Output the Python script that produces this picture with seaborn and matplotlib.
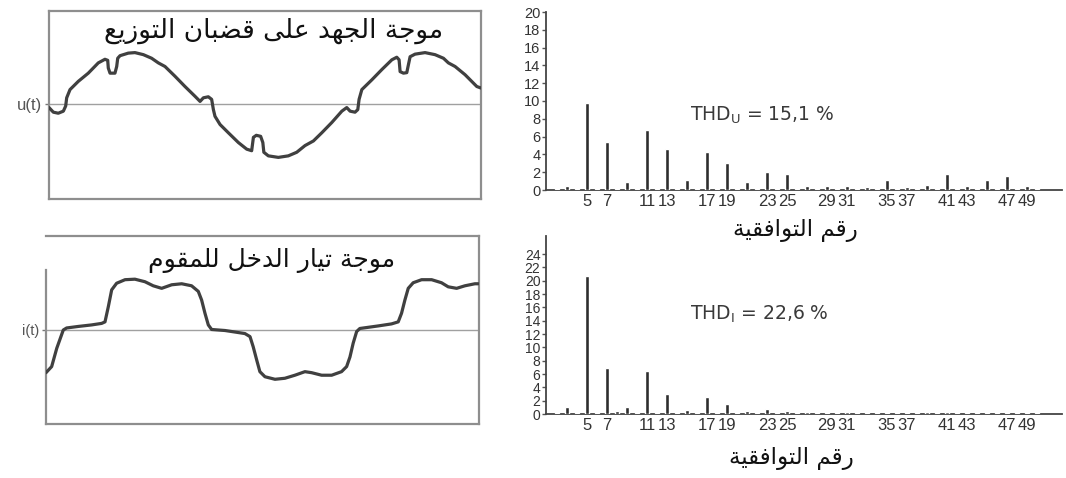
import numpy as np
import pandas as pd
import matplotlib
matplotlib.use("Agg")
import matplotlib.pyplot as plt
import seaborn as sns

# ---------------- data ----------------
# busbar voltage waveform (time in ms, value in per-unit)
volt_t = [0.00, 0.30, 0.64, 0.99, 1.15, 1.22, 1.45, 2.02, 2.71, 3.40, 3.86, 4.05, 4.09, 4.21,
          4.55, 4.67, 4.74, 4.90, 5.47, 5.93, 6.51, 7.08, 7.54, 8.00, 8.69, 9.38, 10.07, 10.42,
          10.65, 10.99, 11.22, 11.34, 11.45, 11.80, 12.37, 13.06, 13.64, 13.98, 14.10, 14.30,
          14.60, 14.75, 14.82, 15.13, 15.82, 16.51, 17.09, 17.66, 18.24, 18.82, 19.51, 20.20,
          20.54, 20.77, 21.11, 21.30, 21.39, 21.58, 22.27, 22.96, 23.65, 23.99, 24.15, 24.22,
          24.45, 24.68, 24.79, 24.91, 25.25, 25.94, 26.63, 27.21, 27.55, 28.01, 28.70, 29.51, 29.80]
volt_v = [-0.07, -0.16, -0.18, -0.14, -0.04, 0.12, 0.28, 0.44, 0.60, 0.80, 0.87, 0.85, 0.70, 0.60,
          0.60, 0.73, 0.89, 0.94, 0.99, 1.00, 0.96, 0.89, 0.80, 0.73, 0.54, 0.34, 0.15, 0.05,
          0.12, 0.14, 0.09, -0.11, -0.24, -0.40, -0.56, -0.75, -0.88, -0.91, -0.65, -0.61,
          -0.63, -0.75, -0.94, -1.01, -1.04, -1.01, -0.94, -0.81, -0.72, -0.56, -0.36, -0.14,
          -0.07, -0.14, -0.16, -0.11, 0.09, 0.28, 0.47, 0.67, 0.86, 0.91, 0.86, 0.63,
          0.60, 0.61, 0.76, 0.92, 0.97, 1.00, 0.96, 0.89, 0.80, 0.73, 0.57, 0.34, 0.31]

# rectifier input current waveform (time in ms, value in per-unit)
curr_t = [0.00, 0.39, 0.74, 1.19, 1.42, 2.22, 3.14, 3.83, 4.06, 4.29, 4.52, 4.86, 5.44, 6.12,
          6.81, 7.38, 7.96, 8.65, 9.34, 10.02, 10.48, 10.71, 10.94, 11.17, 11.40, 12.32, 13.69,
          14.04, 14.26, 14.50, 14.72, 15.07, 15.76, 16.44, 17.13, 17.82, 18.28, 18.97, 19.66,
          20.34, 20.69, 20.92, 21.14, 21.38, 21.60, 22.86, 23.78, 24.24, 24.47, 24.70, 24.93,
          25.27, 25.85, 26.54, 27.22, 27.68, 28.26, 28.83, 29.52, 29.75]
curr_v = [-0.84, -0.72, -0.36, 0.00, 0.04, 0.07, 0.10, 0.13, 0.16, 0.46, 0.79, 0.92, 0.99, 1.00,
          0.95, 0.87, 0.82, 0.89, 0.91, 0.87, 0.76, 0.59, 0.33, 0.10, 0.01, -0.01, -0.07,
          -0.13, -0.33, -0.59, -0.82, -0.92, -0.97, -0.95, -0.89, -0.82, -0.84, -0.89, -0.89,
          -0.82, -0.72, -0.53, -0.26, -0.03, 0.03, 0.08, 0.12, 0.16, 0.33, 0.59, 0.82,
          0.93, 0.99, 0.99, 0.93, 0.85, 0.82, 0.87, 0.91, 0.91]

# harmonic spectra (% of fundamental), orders 2..50
harm_order = list(range(2, 51))
volt_harm = [0.15, 0.4, 0.15, 9.8, 0.15, 5.4, 0.15, 0.9, 0.15, 6.7, 0.15, 4.6, 0.15, 1.1, 0.15,
             4.3, 0.15, 3.0, 0.15, 0.9, 0.15, 2.0, 0.15, 1.8, 0.15, 0.5, 0.15, 0.4, 0.15, 0.5,
             0.15, 0.3, 0.15, 1.1, 0.15, 0.3, 0.15, 0.6, 0.15, 1.8, 0.15, 0.4, 0.15, 1.1, 0.15,
             1.6, 0.15, 0.5, 0.15]
curr_harm = [0.2, 1.1, 0.2, 20.7, 0.2, 6.9, 0.4, 1.1, 0.2, 6.4, 0.2, 3.0, 0.2, 0.6, 0.2,
             2.5, 0.2, 1.5, 0.2, 0.4, 0.2, 0.7, 0.2, 0.4, 0.2, 0.25, 0.2, 0.2, 0.2, 0.25,
             0.2, 0.2, 0.2, 0.2, 0.2, 0.2, 0.2, 0.25, 0.2, 0.3, 0.2, 0.2, 0.2, 0.2, 0.2,
             0.2, 0.2, 0.2, 0.2]
tick_orders = [5, 7, 11, 13, 17, 19, 23, 25, 29, 31, 35, 37, 41, 43, 47, 49]
volt_yticks = list(range(0, 21, 2))
curr_yticks = list(range(0, 25, 2))

title_volt = "موجة الجهد على قضبان التوزيع"
title_curr = "موجة تيار الدخل للمقوم"
harm_label = "رقم التوافقية"
thd_volt = r"THD$_\mathregular{U}$ = 15,1 %"
thd_curr = r"THD$_\mathregular{I}$ = 22,6 %"

# ---------------- Arabic contextual shaping ----------------
# (isolated, final, initial, medial)
FORMS = {
    "ا": ("\uFE8D", "\uFE8E", None, None),
    "ب": ("\uFE8F", "\uFE90", "\uFE91", "\uFE92"),
    "ة": ("\uFE93", "\uFE94", None, None),
    "ت": ("\uFE95", "\uFE96", "\uFE97", "\uFE98"),
    "ج": ("\uFE9D", "\uFE9E", "\uFE9F", "\uFEA0"),
    "خ": ("\uFEA5", "\uFEA6", "\uFEA7", "\uFEA8"),
    "د": ("\uFEA9", "\uFEAA", None, None),
    "ر": ("\uFEAD", "\uFEAE", None, None),
    "ز": ("\uFEAF", "\uFEB0", None, None),
    "ض": ("\uFEBD", "\uFEBE", "\uFEBF", "\uFEC0"),
    "ع": ("\uFEC9", "\uFECA", "\uFECB", "\uFECC"),
    "ف": ("\uFED1", "\uFED2", "\uFED3", "\uFED4"),
    "ق": ("\uFED5", "\uFED6", "\uFED7", "\uFED8"),
    "ل": ("\uFEDD", "\uFEDE", "\uFEDF", "\uFEE0"),
    "م": ("\uFEE1", "\uFEE2", "\uFEE3", "\uFEE4"),
    "ن": ("\uFEE5", "\uFEE6", "\uFEE7", "\uFEE8"),
    "ه": ("\uFEE9", "\uFEEA", "\uFEEB", "\uFEEC"),
    "و": ("\uFEED", "\uFEEE", None, None),
    "ى": ("\uFEEF", "\uFEF0", None, None),
    "ي": ("\uFEF1", "\uFEF2", "\uFEF3", "\uFEF4"),
}


def shape_ar(s):
    out = []
    for i, c in enumerate(s):
        if c not in FORMS:
            out.append(c)
            continue
        iso, fin, ini, med = FORMS[c]
        prev = s[i - 1] if i > 0 else None
        nxt = s[i + 1] if i + 1 < len(s) else None
        jp = prev in FORMS and FORMS[prev][2] is not None
        jn = ini is not None and nxt in FORMS
        out.append(med if (jp and jn) else fin if jp else ini if jn else iso)
    return "".join(reversed(out))


# ---------------- figure ----------------
sns.set_theme(style="white")
plt.rcParams["font.family"] = ["Liberation Sans", "DejaVu Sans"]

W, H = 1066, 478
fig = plt.figure(figsize=(W / 100, H / 100), dpi=100)
fig.patch.set_facecolor("white")


def px_axes(l, t, r, b):
    return fig.add_axes([l / W, 1 - b / H, (r - l) / W, (b - t) / H])


WAVE = "#404040"
BOX = "#8e8e8e"
AR_FONT = ["DejaVu Sans"]


def wave_panel(ax, t, v, ylab, title, ylim, ty, tsize, ysize):
    ax.axhline(0, color="#a0a0a0", lw=1.0, zorder=1)
    sns.lineplot(x=t, y=v, ax=ax, color=WAVE, lw=2.3, estimator=None, sort=False, zorder=3)
    ax.set_xlim(0, 29.8)
    ax.set_ylim(*ylim)
    ax.set_xticks([])
    ax.set_yticks([0], labels=[ylab])
    ax.tick_params(axis="y", length=3, width=1, color="#777", labelsize=ysize,
                   labelcolor="#555", pad=2, left=True)
    for s in ax.spines.values():
        s.set_visible(True)
        s.set_color(BOX)
        s.set_linewidth(1.6)
    ax.set_xlabel("")
    ax.set_ylabel("")
    ax.text(0.52, ty, shape_ar(title), transform=ax.transAxes, ha="center", va="center",
            fontsize=tsize, color="#111", family=AR_FONT)


ax_u = px_axes(49, 11, 481, 199)
wave_panel(ax_u, volt_t, volt_v, "u(t)", title_volt, (-1.85, 1.81), 0.895, 19, 12)

ax_i = px_axes(46, 236, 479, 424)
wave_panel(ax_i, curr_t, curr_v, "i(t)", title_curr, (-1.85, 1.85), 0.87, 18, 10.5)
ax_i.spines["left"].set_bounds(-1.85, 1.18)


def spectrum_panel(ax, vals, ymax, yticks, thd, thd_y, ytick_size):
    df = pd.DataFrame({"order": harm_order, "pct": vals})
    sns.barplot(data=df, x="order", y="pct", native_scale=True, width=0.38,
                color="#2e2e2e", saturation=1, ax=ax, zorder=3)
    ax.set_xlim(0.9, 52.5)
    ax.set_ylim(0, ymax)
    ax.set_xticks(tick_orders, labels=[str(k) for k in tick_orders])
    ax.set_yticks(yticks, labels=[str(k) for k in yticks])
    ax.tick_params(axis="x", length=0, labelsize=12, labelcolor="#333", pad=3)
    ax.tick_params(axis="y", length=3, width=1, color="#555", direction="out",
                   labelsize=ytick_size, labelcolor="#333", pad=1, left=True)
    for side in ("top", "right"):
        ax.spines[side].set_visible(False)
    for side in ("left", "bottom"):
        ax.spines[side].set_color("#444")
        ax.spines[side].set_linewidth(1.3)
    ax.set_xlabel("")
    ax.set_ylabel("")
    ax.text(15.3, thd_y, thd, fontsize=13.5, color="#3a3a3a", va="center", ha="left",
            family=["DejaVu Sans"])


ax_vs = px_axes(546, 12, 1062, 190)
spectrum_panel(ax_vs, volt_harm, 20, volt_yticks, thd_volt, 8.4, 10.5)

ax_is = px_axes(546, 236, 1062, 414)
spectrum_panel(ax_is, curr_harm, 26.7, curr_yticks, thd_curr, 15.0, 10)

fig.text(795 / W, 1 - 230 / H, shape_ar(harm_label), ha="center", va="center",
         fontsize=16.5, color="#111", family=AR_FONT)
fig.text(791 / W, 1 - 458 / H, shape_ar(harm_label), ha="center", va="center",
         fontsize=16.5, color="#111", family=AR_FONT)

fig.savefig("out.png", dpi=100, facecolor="white")
